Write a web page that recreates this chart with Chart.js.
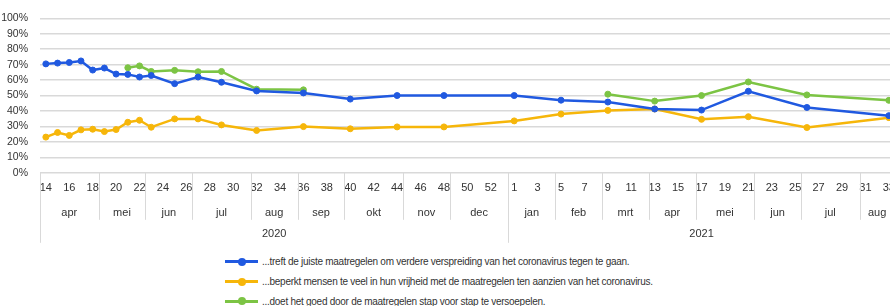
<!DOCTYPE html>
<html lang="nl">
<head>
  <meta charset="UTF-8">
  <title>Oordeel over de maatregelen - coronavirus</title>
  <style>
    html, body {
      margin: 0;
      padding: 0;
      background: #ffffff;
      overflow: hidden;
    }
    body {
      width: 890px;
      height: 306px;
      position: relative;
      font-family: 'Liberation Sans', Arial, sans-serif;
    }
    .chart-box {
      position: absolute;
      left: 0;
      top: 0;
      width: 904px;
      height: 250px;
    }
    .legend {
      position: absolute;
      left: 225px;
      top: 252px;
      list-style: none;
      margin: 0;
      padding: 0;
      font-size: 10px;
      letter-spacing: -0.27px;
      color: #333;
    }
    .legend li {
      height: 19.7px;
      display: flex;
      align-items: center;
      white-space: nowrap;
    }
    .legend .mark {
      position: relative;
      width: 33px;
      height: 3px;
      margin-right: 4px;
    }
    .legend .mark i {
      position: absolute;
      left: 13px;
      top: -2.5px;
      width: 8px;
      height: 8px;
      border-radius: 50%;
    }
  </style>
</head>
<body>
  <div class="chart-box"><canvas id="chart"></canvas></div>
  <ul class="legend" id="legend"></ul>

  <script src="https://cdn.jsdelivr.net/npm/chart.js"></script>
  <script>
    // week numbers on the axis
    const weeks2020 = [14, 15, 16, 17, 18, 19, 20, 21, 22, 23, 24, 25, 26, 27, 28, 29, 30, 31, 32, 33,
                       34, 35, 36, 37, 38, 39, 40, 41, 42, 43, 44, 45, 46, 47, 48, 49, 50, 51, 52, 53];
    const weeks2021 = [1, 2, 3, 4, 5, 6, 7, 8, 9, 10, 11, 12, 13, 14, 15, 16, 17, 18, 19, 20,
                       21, 22, 23, 24, 25, 26, 27, 28, 29, 30, 31, 32, 33];

    // month groups (name + number of weeks)
    const months2020 = ['apr', 'mei', 'jun', 'jul', 'aug', 'sep', 'okt', 'nov', 'dec'];
    const monthWeeks2020 = [5, 4, 4, 5, 4, 4, 5, 4, 5];
    const months2021 = ['jan', 'feb', 'mrt', 'apr', 'mei', 'jun', 'jul', 'aug'];
    const monthWeeks2021 = [4, 4, 4, 4, 5, 4, 5, 3];
    const years = ['2020', '2021'];

    // weeks in which the survey was held
    const surveyWeeks = ['2020-14', '2020-15', '2020-16', '2020-17', '2020-18', '2020-19', '2020-20',
                         '2020-21', '2020-22', '2020-23', '2020-25', '2020-27', '2020-29', '2020-32',
                         '2020-36', '2020-40', '2020-44', '2020-48',
                         '2021-1', '2021-5', '2021-9', '2021-13', '2021-17', '2021-21', '2021-26', '2021-33'];

    // percentages per statement
    const juisteMaatregelen = [70.5, 71, 71.4, 72.4, 66.5, 67.8, 63.9, 63.7, 62, 63, 57.7, 62, 58.6, 53,
                               51.7, 47.7, 50, 50, 50, 47, 45.8, 41.3, 40.6, 52.8, 42.3, 37];
    const beperktVrijheid = [23.1, 26.1, 24.2, 27.8, 28.2, 26.7, 28, 32.7, 34, 29.5, 34.9, 34.9, 31, 27.4,
                             29.9, 28.5, 29.7, 29.7, 33.6, 38, 40.4, 41.3, 34.6, 36.3, 29.3, 35.7];
    const stapVoorStap = [null, null, null, null, null, null, null, 68, 69.2, 65.6, 66.3, 65.4, 65.6, 54.1,
                          53.7, null, null, null, null, null, 50.9, 46.4, 50, 58.8, 50.4, 46.9];

    const seriesLabels = [
      '...treft de juiste maatregelen om verdere verspreiding van het coronavirus tegen te gaan.',
      '...beperkt mensen te veel in hun vrijheid met de maatregelen ten aanzien van het coronavirus.',
      '...doet het goed door de maatregelen stap voor stap te versoepelen.'
    ];
    const seriesColors = ['#2059e0', '#f6b60a', '#7cc444'];

    const categories = weeks2020.map(w => '2020-' + w).concat(weeks2021.map(w => '2021-' + w));

    function toPoints(values) {
      return surveyWeeks.map((wk, i) => ({ x: wk, y: values[i] }));
    }

    const seriesValues = [juisteMaatregelen, beperktVrijheid, stapVoorStap];
    const datasets = seriesValues.map((vals, i) => ({
      label: seriesLabels[i],
      data: toPoints(vals),
      borderColor: seriesColors[i],
      backgroundColor: seriesColors[i],
      borderWidth: 2.5,
      pointRadius: 3,
      pointBorderWidth: 1,
      pointHoverRadius: 3,
      tension: 0,
      spanGaps: false
    }));

    // months / years below the week labels
    const groupAxis = {
      id: 'groupAxis',
      afterDraw(chart) {
        const ctx = chart.ctx;
        const xs = chart.scales.x;
        const step = xs.getPixelForValue(1) - xs.getPixelForValue(0);
        const edge = i => xs.getPixelForValue(0) - step / 2 + i * step;
        const top = chart.chartArea.bottom;

        ctx.save();
        ctx.strokeStyle = '#d9d9d9';
        ctx.lineWidth = 1;
        ctx.fillStyle = '#333';
        ctx.font = '11px "Liberation Sans"';
        ctx.textAlign = 'center';
        ctx.textBaseline = 'middle';

        const line = (x, y2) => {
          ctx.beginPath();
          ctx.moveTo(Math.round(x) + 0.5, top);
          ctx.lineTo(Math.round(x) + 0.5, y2);
          ctx.stroke();
        };

        let idx = 0;
        const monthGroups = [[months2020, monthWeeks2020], [months2021, monthWeeks2021]];
        monthGroups.forEach(([names, spans]) => {
          names.forEach((name, m) => {
            const a = edge(idx), b = edge(idx + spans[m]);
            line(a, top + 47);
            ctx.fillText(name, (a + b) / 2, top + 40);
            idx += spans[m];
          });
        });

        const yearSpans = [weeks2020.length, weeks2021.length];
        idx = 0;
        years.forEach((yr, k) => {
          const a = edge(idx), b = edge(idx + yearSpans[k]);
          line(a, top + 70);
          ctx.fillText(yr, (a + b) / 2, top + 61);
          idx += yearSpans[k];
        });
        ctx.restore();
      }
    };

    new Chart(document.getElementById('chart'), {
      type: 'line',
      data: { labels: categories, datasets: datasets },
      options: {
        responsive: true,
        maintainAspectRatio: false,
        animation: false,
        layout: { padding: { top: 13, right: 2, bottom: 46, left: 0 } },
        plugins: {
          legend: { display: false },
          tooltip: { enabled: false }
        },
        scales: {
          x: {
            type: 'category',
            offset: true,
            grid: { display: false, drawTicks: false },
            border: { display: false },
            ticks: {
              autoSkip: false,
              maxRotation: 0,
              padding: 9,
              color: '#333',
              font: { family: 'Liberation Sans', size: 11 },
              callback: (val, i) => (i % 2 === 0 ? categories[i].split('-')[1] : '')
            }
          },
          y: {
            min: 0,
            max: 100,
            afterFit: scale => { scale.width = 40; },
            grid: { color: '#d9d9d9', lineWidth: 1.5, drawTicks: false },
            border: { display: false },
            ticks: {
              stepSize: 10,
              autoSkip: false,
              padding: 12,
              color: '#333',
              font: { family: 'Liberation Sans', size: 10.5 },
              callback: v => v + '%'
            }
          }
        }
      },
      plugins: [groupAxis]
    });

    // legend stacked under the chart
    const legend = document.getElementById('legend');
    seriesLabels.forEach((text, i) => {
      const li = document.createElement('li');
      li.innerHTML = '<span class="mark" style="background:' + seriesColors[i] + '"><i style="background:' +
        seriesColors[i] + '"></i></span><span>' + text + '</span>';
      legend.appendChild(li);
    });
  </script>
</body>
</html>
